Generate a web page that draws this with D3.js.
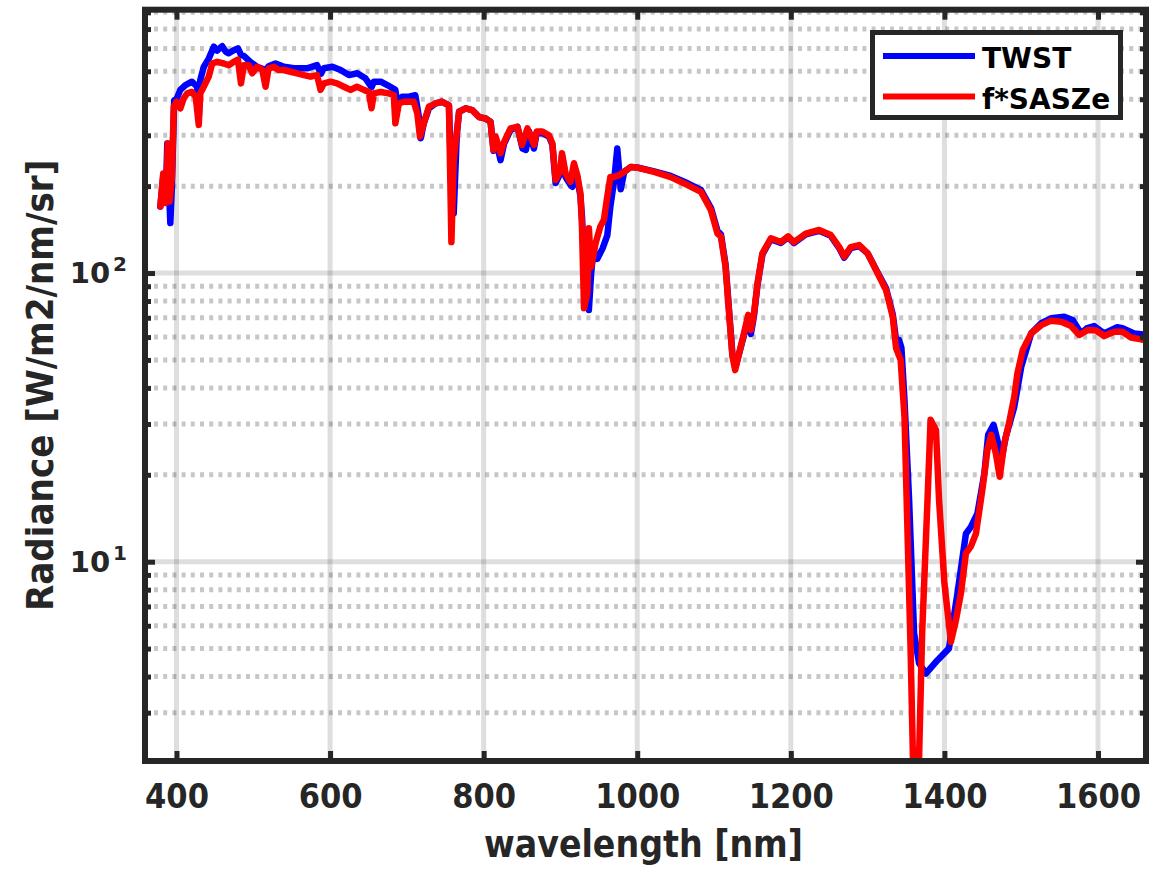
<!DOCTYPE html>
<html lang="en">
<head>
<meta charset="UTF-8">
<title>TWST vs f*SASZe radiance</title>
<style>
  body { margin: 0; background: #fff; }
  svg { display: block; font-family: "DejaVu Sans", sans-serif; }
  .axis .domain { display: none; }
  .axis line { stroke: #262626; stroke-width: 5px; }
  .axis text { fill: #262626; font-weight: bold; }
  .xlab text, .ylab { font-family: "DejaVu Sans Condensed", "DejaVu Sans", sans-serif; font-stretch: condensed; }
  .grid-major { stroke: #000; stroke-opacity: 0.13; stroke-width: 5px; }
  .grid-minor { stroke: #000; stroke-opacity: 0.22; stroke-width: 5px; stroke-dasharray: 4 5.2; }
  .series { fill: none; stroke-width: 6.5px; stroke-linejoin: round; stroke-linecap: round; }
</style>
</head>
<body>
<svg id="chart" width="1166" height="870"></svg>
<script src="https://d3js.org/d3.v7.min.js"></script>
<script>
// wavelength [nm] and radiance [W/m2/nm/sr]
const twstWl = [379, 382.7, 386, 388, 390, 392, 394, 397, 400, 405, 411.7, 420, 427, 429, 431, 435.5, 442, 448.6, 453, 459.5, 464, 468, 474, 480, 484, 487.7, 496, 505, 516, 520, 529, 540, 553, 570, 583, 588, 592, 603, 613.7, 624.5, 635.4, 646, 654, 657, 666, 674.5, 685, 687.6, 694, 702.7, 711, 715.7, 718, 722, 728.7, 737.5, 746, 754.8, 758, 761, 765, 768, 776.6, 785, 794, 802.6, 809, 813, 816, 822, 826.5, 835, 844, 850.6, 855, 859, 865.5, 869, 876.5, 885, 889.5, 893.7, 900, 902, 906.7, 913, 915.5, 917.6, 922, 926, 928, 931, 937, 940, 943, 948, 955, 961, 965, 970, 974, 978.5, 983, 991.5, 1000, 1022, 1043.6, 1065, 1083, 1096, 1104.5, 1109, 1115, 1119.6, 1124, 1128, 1133, 1139, 1144.5, 1148, 1152, 1156.6, 1163, 1174, 1187, 1196.5, 1204, 1219.5, 1236.8, 1252, 1263, 1269.5, 1278, 1289, 1300, 1313, 1324, 1332.7, 1337, 1341, 1344, 1348, 1354, 1360.5, 1367, 1376, 1391, 1406, 1417, 1428, 1434.5, 1443, 1452, 1457, 1464, 1469, 1474, 1480, 1491, 1500, 1513, 1526, 1539, 1556, 1567, 1578, 1586, 1595, 1608, 1625, 1632, 1647, 1665];
const twstRad = [170, 215, 175, 281, 200, 149, 200, 397, 400, 431, 448, 460, 442, 345, 466, 518, 553, 608, 590, 611, 585, 577, 590, 600, 570, 565, 539, 518, 505, 520, 532, 518, 512, 512, 525, 490, 512, 518, 505, 485, 492, 473, 440, 460, 460, 448, 431, 387, 408, 408, 413, 347, 293, 330, 372, 387, 392, 381, 200, 161, 300, 362, 372, 367, 347, 343, 334, 265, 290, 246, 280, 313, 321, 270, 267, 310, 270, 305, 305, 297, 278, 205, 222, 255, 215, 202, 199, 235, 212, 185, 157, 110, 74.5, 100, 120, 112, 122, 135, 170, 210, 270, 195, 224, 233, 232, 225, 217, 205, 194, 168, 140, 136, 107, 74, 52, 47.5, 53, 61, 70, 61.5, 71, 91, 116, 131, 127, 133, 127, 136, 140, 134.5, 122, 113, 122, 124, 117, 100.5, 88.5, 72, 58.6, 58.6, 55, 36.3, 16.4, 5.65, 4.45, 4.1, 4.56, 5.01, 7.78, 12.5, 13.2, 14.7, 20.2, 27.5, 29.8, 26.4, 22.5, 27.1, 34.4, 47.3, 61.8, 67, 69.7, 70.6, 68.8, 61.8, 64.5, 65.5, 61.8, 64.9, 64.4, 61.8, 61];

const saszeWl = [379, 382.7, 386, 388.7, 391, 394, 396.5, 400, 405, 409.5, 414, 420, 425, 429, 431, 435.5, 442, 446.5, 453, 461.6, 468, 474.7, 480, 484, 487.7, 494, 498.6, 505, 511.8, 516, 520, 527, 533, 540, 548.5, 557, 566, 574.6, 583, 587.6, 592, 600.6, 609, 618, 626.7, 635, 644, 650.5, 654, 657, 666, 676.6, 683, 685, 689.6, 696, 709, 713.6, 717, 722, 728.7, 737.5, 746, 754.8, 758, 761, 768, 776.6, 785, 794, 802.6, 809, 812.7, 815.6, 822, 826.5, 835, 844, 850, 857, 865.5, 869, 876.5, 885, 889.5, 893.7, 900, 902, 906.7, 913, 917.6, 922, 926, 928, 930.7, 935, 937, 940, 945.8, 952, 956.6, 961, 965, 969.8, 976, 982.8, 991.5, 1000, 1022, 1043.6, 1065, 1083, 1096, 1104.5, 1109, 1115, 1119.6, 1124, 1127.5, 1132.7, 1139, 1144.5, 1148, 1152, 1156.6, 1163, 1174, 1187, 1196.5, 1204, 1219.5, 1236.8, 1252, 1263, 1269.5, 1278, 1289, 1300, 1313, 1324, 1332.7, 1337, 1343, 1348, 1352, 1356, 1359, 1363, 1367, 1371, 1378, 1382, 1389, 1393, 1400, 1408.5, 1415, 1421.5, 1428, 1434.5, 1441, 1450, 1456, 1461, 1467, 1472, 1478, 1484, 1491, 1495, 1502, 1513, 1526, 1539, 1552, 1565, 1575.6, 1586.6, 1597.4, 1608, 1621, 1632, 1643, 1656, 1665];
const saszeRad = [170, 221, 175, 281, 177, 215, 377, 392, 372, 403, 419, 424, 408, 326, 419, 442, 479, 532, 539, 532, 525, 539, 549, 454, 525, 525, 492, 518, 505, 442, 512, 518, 505, 505, 498, 492, 485, 479, 485, 431, 454, 460, 454, 442, 431, 442, 431, 424, 372, 419, 424, 419, 413, 330, 387, 392, 392, 357, 297, 330, 377, 387, 392, 381, 128, 246, 362, 372, 367, 347, 343, 334, 267, 297, 260, 284, 317, 321, 278, 317, 278, 309, 309, 300, 281, 210, 227, 260, 221, 207, 240, 218, 189, 145, 75.5, 85, 143, 105, 127, 145, 153, 184, 215, 215, 218, 224, 233, 232, 224, 215, 202, 191, 165, 137, 133.6, 105, 72.5, 51.3, 46.1, 52.7, 61.8, 71.6, 63.5, 72.5, 92, 117, 132, 128, 134, 128, 137, 141, 135.4, 123, 114, 123, 125, 117, 99.8, 87.3, 70.6, 55, 50, 31.8, 12.5, 4.94, 2.1, 1.5, 2.1, 5.65, 16.4, 31, 28.6, 16.4, 8.41, 5.28, 6.28, 7.78, 10.7, 11.3, 12.5, 18.2, 24.4, 27.5, 23.7, 19.7, 25.7, 30.1, 37.3, 44.9, 54.1, 61.8, 66, 68.4, 67.8, 65.5, 61, 63.5, 63.2, 60.5, 62.6, 62.6, 59.8, 58.9, 58.2];

const xTicks = [400, 600, 800, 1000, 1200, 1400, 1600];
const yMajor = [10, 100];
const yMinor = [3, 4, 5, 6, 7, 8, 9, 20, 30, 40, 50, 60, 70, 80, 90, 200, 300, 400, 500, 600, 700, 800];
const seriesNames = ["TWST", "f*SASZe"];
const seriesColors = ["#0000ff", "#ff0000"];

const svg = d3.select("#chart");
const margin = { top: 9.7, right: 20, bottom: 109, left: 145 };
const width = 1001;
const height = 751.3;
const g = svg.append("g").attr("transform", `translate(${margin.left},${margin.top})`);

const x = d3.scaleLinear().domain([359, 1662.5]).range([0, width]);
const y = d3.scaleLog().domain([2.04, 817]).range([height, 0]);

// grid
g.append("g").selectAll("line").data(xTicks).join("line")
    .attr("class", "grid-major")
    .attr("x1", d => x(d)).attr("x2", d => x(d))
    .attr("y1", 0).attr("y2", height);
g.append("g").selectAll("line").data(yMajor).join("line")
    .attr("class", "grid-major")
    .attr("x1", 0).attr("x2", width)
    .attr("y1", d => y(d)).attr("y2", d => y(d));
g.append("g").selectAll("line").data(yMinor).join("line")
    .attr("class", "grid-minor")
    .attr("x1", 9).attr("x2", width)
    .attr("y1", d => y(d)).attr("y2", d => y(d));

// lines
svg.append("defs").append("clipPath").attr("id", "clip")
  .append("rect").attr("width", width).attr("height", height);

const line = d3.line().x(d => x(d[0])).y(d => y(d[1]));
const series = [d3.zip(twstWl, twstRad), d3.zip(saszeWl, saszeRad)];
g.append("g").attr("clip-path", "url(#clip)")
  .selectAll("path").data(series).join("path")
    .attr("class", "series")
    .attr("stroke", (d, i) => seriesColors[i])
    .attr("d", line);

// axes, ticks pointing inward
g.append("g").attr("class", "axis xlab")
    .attr("transform", `translate(0,${height})`)
    .call(d3.axisBottom(x).tickValues(xTicks).tickSize(-10).tickPadding(23).tickFormat(d3.format("d")))
    .selectAll("text").style("font-size", "34px");
g.append("g").attr("class", "axis")
    .call(d3.axisTop(x).tickValues(xTicks).tickSize(-10).tickFormat(""));
g.append("g").attr("class", "axis")
    .call(d3.axisLeft(y).tickValues(yMajor).tickSize(-10).tickFormat(""));
g.append("g").attr("class", "axis")
    .call(d3.axisLeft(y).tickValues(yMinor).tickSize(-6).tickFormat(""));
g.append("g").attr("class", "axis")
    .attr("transform", `translate(${width},0)`)
    .call(d3.axisRight(y).tickValues(yMajor).tickSize(-10).tickFormat(""));
g.append("g").attr("class", "axis")
    .attr("transform", `translate(${width},0)`)
    .call(d3.axisRight(y).tickValues(yMinor).tickSize(-6).tickFormat(""));

// 10^n labels
const yl = g.append("g").selectAll("text").data(yMajor).join("text")
    .attr("x", -18).attr("y", d => y(d) + 10)
    .attr("text-anchor", "end")
    .style("font-size", "29px").style("font-weight", "bold").style("fill", "#262626");
yl.append("tspan").text("10");
yl.append("tspan").attr("dx", 3).attr("dy", -12).style("font-size", "20px").text(d => Math.round(Math.log10(d)));

// frame
g.append("rect").attr("width", width).attr("height", height)
    .attr("fill", "none").attr("stroke", "#262626").attr("stroke-width", 6);

// axis labels
svg.append("text").attr("class", "ylab")
    .attr("transform", `translate(53,${margin.top + height / 2}) rotate(-90)`)
    .attr("text-anchor", "middle")
    .style("font-size", "38px").style("font-weight", "bold").style("fill", "#262626")
    .text("Radiance [W/m2/nm/sr]");
svg.append("text").attr("class", "ylab")
    .attr("x", margin.left + width / 2 - 2).attr("y", 857)
    .attr("text-anchor", "middle")
    .style("font-size", "37px").style("font-weight", "bold").style("fill", "#262626")
    .text("wavelength [nm]");

// legend
const lg = svg.append("g").attr("transform", "translate(872.5,32.5)");
lg.append("rect").attr("width", 248).attr("height", 85)
    .attr("fill", "#fff").attr("stroke", "#262626").attr("stroke-width", 5);
seriesNames.forEach((name, i) => {
  lg.append("line")
    .attr("x1", 10.5).attr("x2", 102.5)
    .attr("y1", 23.5 + i * 40.5).attr("y2", 23.5 + i * 40.5)
    .attr("stroke", seriesColors[i]).attr("stroke-width", 6);
  lg.append("text")
    .attr("x", 109.5).attr("y", 35.5 + i * 40.5)
    .style("font-size", "28px").style("font-weight", "bold").style("fill", "#000")
    .text(name);
});
</script>
</body>
</html>
